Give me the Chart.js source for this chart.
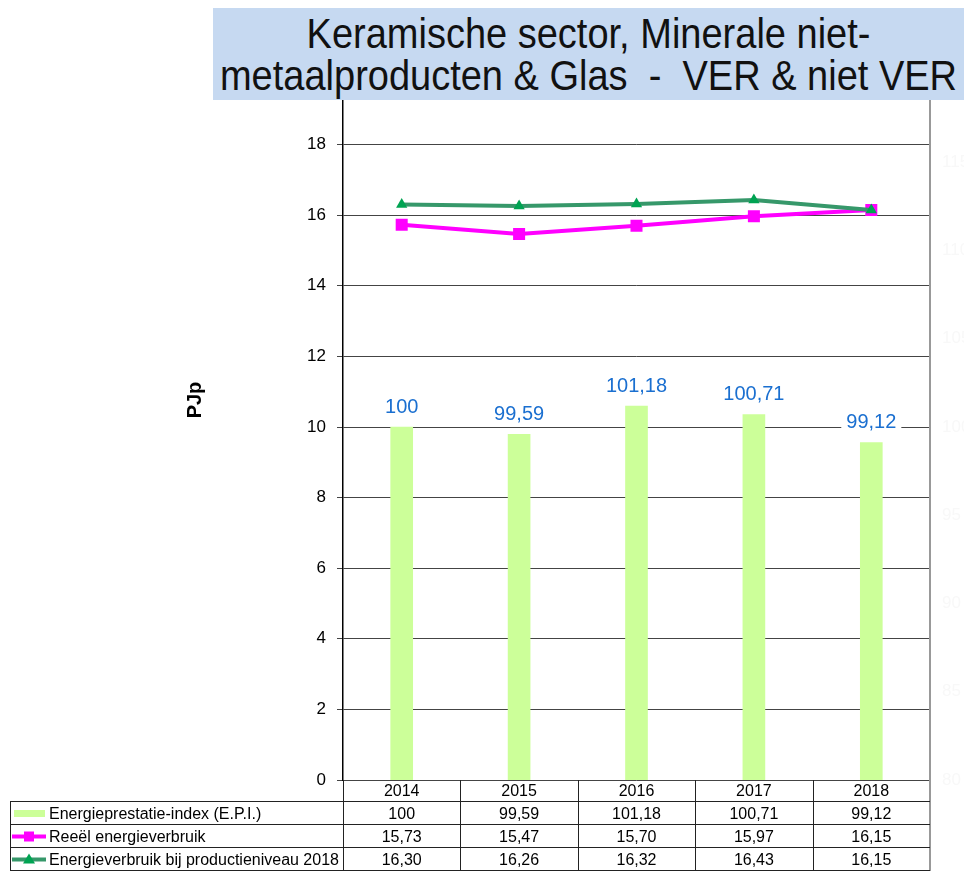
<!DOCTYPE html>
<html lang="nl">
<head>
  <meta charset="UTF-8" />
  <title>Keramische sector - VER & niet VER</title>
  <script src="https://cdn.jsdelivr.net/npm/chart.js"></script>
  <style>
    body {
      margin: 0;
      padding: 0;
      background: #fff;
      font-family: "Liberation Sans", Arial, sans-serif;
      overflow: hidden;
    }
    .wrap {
      position: relative;
      width: 964px;
      height: 871px;
    }
    .title {
      position: absolute;
      left: 213px;
      top: 8px;
      width: 751px;
      height: 92px;
      background: #c6d9f1;
      color: #111;
      font-size: 38px;
      line-height: 42px;
      text-align: center;
      white-space: pre;
      padding-top: 4px;
      box-sizing: border-box;
    }
    .title div {
      transform: scaleY(1.12);
    }
  </style>
</head>
<body>
  <div class="wrap">
    <canvas id="chart" width="964" height="871"></canvas>
    <div class="title"><div>Keramische sector, Minerale niet-</div><div>metaalproducten &amp; Glas  -  VER &amp; niet VER</div></div>
  </div>
  <script>
    const years = ["2014", "2015", "2016", "2017", "2018"];
    const epi = [100, 99.59, 101.18, 100.71, 99.12];
    const reeel = [15.73, 15.47, 15.70, 15.97, 16.15];
    const prodNiveau = [16.30, 16.26, 16.32, 16.43, 16.15];
    const seriesNames = [
      "Energieprestatie-index (E.P.I.)",
      "Reeël energieverbruik",
      "Energieverbruik bij productieniveau 2018"
    ];

    const FONT = '"Liberation Sans", Arial, sans-serif';
    const BAR_COLOR = "#ccff99";
    const PINK = "#ff00ff";
    const GREEN_LINE = "#36986a";
    const GREEN_MARK = "#00a352";

    const fmtEpi = v => String(v).replace(".", ",");
    const fmt2 = v => v.toFixed(2).replace(".", ",");

    // value labels above the bars, on a white box
    const barLabels = {
      id: "barLabels",
      afterDatasetsDraw(chart) {
        const ctx = chart.ctx;
        const meta = chart.getDatasetMeta(0);
        ctx.save();
        ctx.font = "20px " + FONT;
        ctx.textAlign = "center";
        ctx.textBaseline = "middle";
        meta.data.forEach((bar, i) => {
          const txt = fmtEpi(epi[i]);
          const w = ctx.measureText(txt).width + 10;
          const y = bar.y - 20;
          ctx.fillStyle = "#fff";
          ctx.fillRect(bar.x - w / 2, y - 12, w, 24);
          ctx.fillStyle = "#1a6fd0";
          ctx.fillText(txt, bar.x, y);
        });
        ctx.restore();
      }
    };

    // data table under the plot, plus axis title and frame lines
    const dataTable = {
      id: "dataTable",
      afterDraw(chart) {
        const ctx = chart.ctx;
        const area = chart.chartArea;
        const colW = (area.right - area.left) / years.length;
        const rowTop = area.bottom;
        const rows = [rowTop, 802, 825, 848, 871];
        const tableLeft = 10;
        ctx.save();

        // right frame line
        ctx.strokeStyle = "#999";
        ctx.lineWidth = 2;
        ctx.beginPath();
        ctx.moveTo(area.right, area.top);
        ctx.lineTo(area.right, 871);
        ctx.stroke();

        // grid of the table
        ctx.strokeStyle = "#222";
        ctx.lineWidth = 1;
        ctx.beginPath();
        for (let r = 1; r < rows.length; r++) {
          const y = Math.round(rows[r]) - 0.5;
          ctx.moveTo(tableLeft, y);
          ctx.lineTo(area.right, y);
        }
        for (let c = 0; c < years.length; c++) {
          const x = Math.round(area.left + c * colW) + 0.5;
          ctx.moveTo(x, rowTop);
          ctx.lineTo(x, 871);
        }
        ctx.moveTo(tableLeft + 0.5, rows[1]);
        ctx.lineTo(tableLeft + 0.5, 871);
        ctx.stroke();

        // cell texts
        ctx.fillStyle = "#000";
        ctx.font = "16px " + FONT;
        ctx.textAlign = "center";
        ctx.textBaseline = "middle";
        const values = [epi.map(fmtEpi), reeel.map(fmt2), prodNiveau.map(fmt2)];
        years.forEach((yr, c) => {
          const cx = area.left + (c + 0.5) * colW;
          ctx.fillText(yr, cx, (rows[0] + rows[1]) / 2 + 1);
          values.forEach((vals, r) => {
            ctx.fillText(vals[c], cx, (rows[r + 1] + rows[r + 2]) / 2 + 1);
          });
        });

        // series names with keys
        ctx.textAlign = "left";
        seriesNames.forEach((name, r) => {
          const cy = (rows[r + 1] + rows[r + 2]) / 2;
          ctx.fillStyle = "#000";
          ctx.fillText(name, 49, cy + 1);
        });
        let cy = (rows[1] + rows[2]) / 2;
        ctx.fillStyle = BAR_COLOR;
        ctx.fillRect(14, cy - 3.5, 31, 7);

        cy = (rows[2] + rows[3]) / 2;
        ctx.strokeStyle = PINK;
        ctx.lineWidth = 4;
        ctx.beginPath();
        ctx.moveTo(12, cy);
        ctx.lineTo(46, cy);
        ctx.stroke();
        ctx.fillStyle = PINK;
        ctx.fillRect(24, cy - 5, 10, 10);

        cy = (rows[3] + rows[4]) / 2;
        ctx.strokeStyle = GREEN_LINE;
        ctx.beginPath();
        ctx.moveTo(12, cy);
        ctx.lineTo(46, cy);
        ctx.stroke();
        ctx.fillStyle = GREEN_MARK;
        ctx.beginPath();
        ctx.moveTo(29, cy - 6);
        ctx.lineTo(35, cy + 4);
        ctx.lineTo(23, cy + 4);
        ctx.closePath();
        ctx.fill();

        // y axis title
        ctx.translate(195, 400);
        ctx.rotate(-Math.PI / 2);
        ctx.fillStyle = "#000";
        ctx.font = "bold 20px " + FONT;
        ctx.textAlign = "center";
        ctx.fillText("PJp", 0, 0);
        ctx.restore();
      }
    };

    new Chart(document.getElementById("chart"), {
      type: "bar",
      data: {
        labels: years,
        datasets: [
          {
            label: seriesNames[0],
            data: epi,
            yAxisID: "y1",
            backgroundColor: BAR_COLOR,
            barThickness: 22,
            order: 3
          },
          {
            type: "line",
            label: seriesNames[1],
            data: reeel,
            yAxisID: "y",
            borderColor: PINK,
            backgroundColor: PINK,
            borderWidth: 4,
            pointStyle: "rect",
            pointRadius: 8.5,
            pointBorderWidth: 0,
            tension: 0,
            order: 2
          },
          {
            type: "line",
            label: seriesNames[2],
            data: prodNiveau,
            yAxisID: "y",
            borderColor: GREEN_LINE,
            backgroundColor: GREEN_MARK,
            borderWidth: 4,
            pointStyle: "triangle",
            pointRadius: 6.5,
            pointBorderWidth: 0,
            tension: 0,
            order: 1
          }
        ]
      },
      options: {
        responsive: false,
        animation: false,
        devicePixelRatio: 1,
        layout: { padding: { left: 0, right: 0, top: 74, bottom: 91 } },
        plugins: {
          legend: { display: false },
          tooltip: { enabled: false }
        },
        scales: {
          x: { display: false, offset: true },
          y: {
            position: "left",
            min: 0,
            max: 20,
            ticks: { stepSize: 2, color: "#000", padding: 11, font: { family: FONT, size: 17 } },
            grid: { color: "#444", tickLength: 6 },
            border: { color: "#000", width: 1.5 },
            afterFit: s => { s.width = 343; }
          },
          y1: {
            position: "right",
            min: 80,
            max: 120,
            ticks: { stepSize: 5, color: "#f8f8f8", padding: 12, font: { family: FONT, size: 17 } },
            grid: { drawOnChartArea: false, drawTicks: false },
            border: { display: false },
            afterFit: s => { s.width = 34; }
          }
        }
      },
      plugins: [barLabels, dataTable]
    });
  </script>
</body>
</html>
